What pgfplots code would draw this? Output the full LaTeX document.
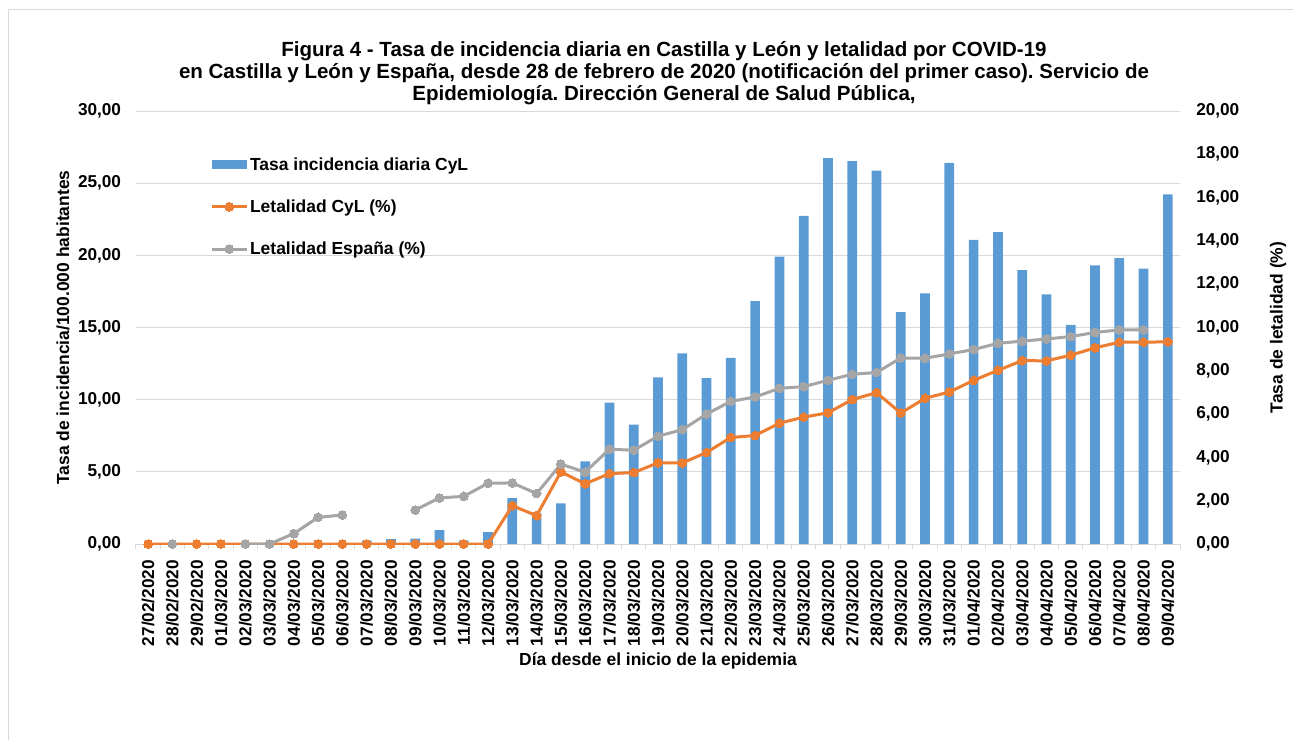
\documentclass[border=0pt]{standalone}
\usepackage{fontspec}
\setmainfont{Liberation Sans}
\usepackage{pgfplots}
\usepackage{pgfplotstable}
\pgfplotsset{compat=1.18}
\definecolor{cBar}{HTML}{5B9BD5}
\definecolor{cOra}{HTML}{ED7D31}
\definecolor{cGra}{HTML}{A5A5A5}
\definecolor{cGrid}{HTML}{D9D9D9}

\pgfplotstableread{
i bar ora gra
0 0 0 nan
1 0 0 0
2 0 0 nan
3 0 0 nan
4 0 0 0
5 0 0 0
6 0 0 0.48
7 0 0 1.23
8 0 0 1.34
9 0.23 0 nan
10 0.33 0 nan
11 0.37 0 1.57
12 0.97 0 2.13
13 0.23 0 2.20
14 0.83 0 2.81
15 3.17 1.77 2.82
16 2.15 1.31 2.33
17 2.82 3.33 3.69
18 5.73 2.78 3.32
19 9.79 3.25 4.38
20 8.27 3.30 4.33
21 11.55 3.75 4.98
22 13.21 3.74 5.28
23 11.50 4.23 6.00
24 12.89 4.92 6.59
25 16.82 5.01 6.79
26 19.91 5.58 7.19
27 22.73 5.86 7.27
28 26.73 6.06 7.56
29 26.52 6.67 7.84
30 25.87 6.99 7.92
31 16.06 6.05 8.59
32 17.37 6.73 8.58
33 26.40 7.02 8.78
34 21.07 7.56 8.98
35 21.60 8.02 9.27
36 18.97 8.47 9.37
37 17.30 8.46 9.47
38 15.18 8.72 9.58
39 19.31 9.06 9.77
40 19.80 9.32 9.89
41 19.08 9.32 9.89
42 24.23 9.34 nan
}\data

\newcommand{\tickfont}{\bfseries\fontsize{12.9}{14}\selectfont}
\newcommand{\labfont}{\bfseries\fontsize{13.1}{15}\selectfont}

\begin{document}
\frenchspacing
\begin{tikzpicture}
\useasboundingbox (0pt,0pt) rectangle (969.75pt,555pt);

\draw[cGrid, line width=0.9pt] (6.4pt,0pt) -- (6.4pt,547.9pt) -- (969.75pt,547.9pt);

\node[align=center, font=\bfseries\fontsize{15.4}{16.5}\selectfont] at (498pt,500.25pt)
{Figura 4 - Tasa de incidencia diaria en Castilla y León y letalidad por COVID-19\\
en Castilla y León y España, desde 28 de febrero de 2020 (notificación del primer caso). Servicio de\\
Epidemiología. Dirección General de Salud Pública,};

\begin{axis}[
  at={(102pt,147pt)}, anchor=south west,
  scale only axis, width=783pt, height=324.75pt,
  xmin=-0.5, xmax=42.5, ymin=0, ymax=30,
  axis line style={draw=none},
  ybar, bar width=0.4,
  ytick={0,5,...,30},
  ymajorgrids, major grid style={cGrid, line width=0.75pt},
  ytick style={draw=none},
  xtick={0,...,42},
  xticklabels={27/02/2020,28/02/2020,29/02/2020,01/03/2020,02/03/2020,03/03/2020,04/03/2020,05/03/2020,06/03/2020,07/03/2020,08/03/2020,09/03/2020,10/03/2020,11/03/2020,12/03/2020,13/03/2020,14/03/2020,15/03/2020,16/03/2020,17/03/2020,18/03/2020,19/03/2020,20/03/2020,21/03/2020,22/03/2020,23/03/2020,24/03/2020,25/03/2020,26/03/2020,27/03/2020,28/03/2020,29/03/2020,30/03/2020,31/03/2020,01/04/2020,02/04/2020,03/04/2020,04/04/2020,05/04/2020,06/04/2020,07/04/2020,08/04/2020,09/04/2020},
  major x tick style={draw=none},
  minor xtick={-0.5,0.5,...,42.5},
  minor x tick style={cGrid, line width=0.75pt},
  minor tick length=4pt,
  xtick align=outside,
  xtick pos=left, ytick pos=left,
  tick label style={font=\tickfont},
  xticklabel style={rotate=90, anchor=east, inner sep=0pt},
  xticklabel shift=7.5pt,
  yticklabel style={anchor=east, inner sep=0pt},
  yticklabel shift=11pt,
  /pgf/number format/.cd, fixed, fixed zerofill, precision=2, use comma, 1000 sep={.}, assume math mode=true,
  /pgfplots/.cd,
  xlabel={Día desde el inicio de la epidemia},
  ylabel={Tasa de incidencia/100.000 habitantes},
  every axis x label/.style={at={(axis description cs:0.5,-0.270)}, anchor=center, font=\labfont},
  every axis y label/.style={at={(axis description cs:-0.0699,0.5)}, rotate=90, anchor=center, font=\labfont},
]
\addplot[fill=cBar, draw=none] table[x=i, y=bar]{\data};
\end{axis}

\begin{axis}[
  at={(102pt,147pt)}, anchor=south west,
  scale only axis, width=783pt, height=324.75pt,
  xmin=-0.5, xmax=42.5, ymin=0, ymax=20,
  hide x axis,
  axis line style={draw=none},
  ytick={0,2,...,20},
  ytick style={draw=none},
  ytick pos=right, yticklabel pos=right,
  tick label style={font=\tickfont},
  yticklabel style={anchor=west, inner sep=0pt},
  yticklabel shift=12pt,
  /pgf/number format/.cd, fixed, fixed zerofill, precision=2, use comma, 1000 sep={.}, assume math mode=true,
  /pgfplots/.cd,
  ylabel={Tasa de letalidad (\%)},
  every axis y label/.style={at={(axis description cs:1.0939,0.5)}, rotate=90, anchor=center, font=\labfont},
  unbounded coords=jump,
  legend image code/.code={\draw[mark repeat=2, mark phase=2, #1] plot coordinates {(0pt,0pt) (13pt,0pt) (26pt,0pt)};},
  legend style={draw=none, fill=none, at={(axis description cs:0.071,0.898)}, anchor=north west,
    font=\labfont, row sep=17.6pt, inner sep=0pt,
    nodes={inner sep=1.5pt}},
  legend cell align=left,
]
\addlegendimage{legend image code/.code={\fill[cBar] (0pt,-3pt) rectangle (26pt,3pt);}}
\addlegendentry{Tasa incidencia diaria CyL}
\addplot[cOra, line width=2.25pt, mark=*, mark size=3.3pt, mark options={fill=cOra, draw=cOra, line width=0pt}] table[x=i, y=ora]{\data};
\addlegendentry{Letalidad CyL (\%)}
\addplot[cGra, line width=2.25pt, mark=*, mark size=3.3pt, mark options={fill=cGra, draw=cGra, line width=0pt}] table[x=i, y=gra]{\data};
\addlegendentry{Letalidad España (\%)}
\end{axis}
\end{tikzpicture}
\end{document}
